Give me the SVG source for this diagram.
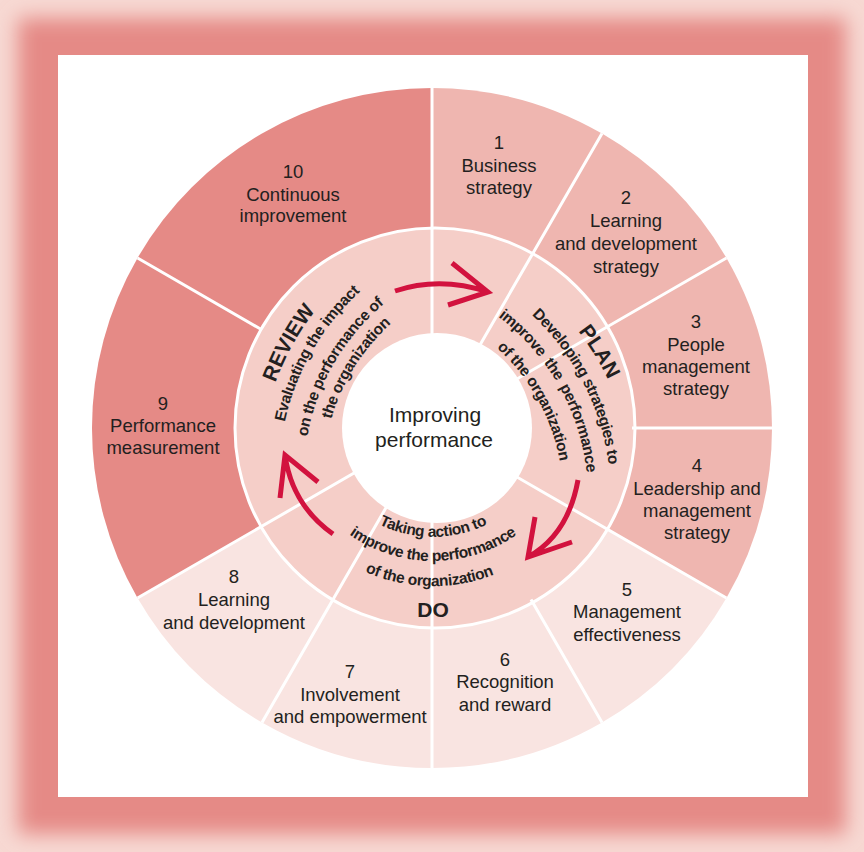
<svg xmlns="http://www.w3.org/2000/svg" width="864" height="852" viewBox="0 0 864 852">
<defs>
<filter id="blur" x="-10%" y="-10%" width="120%" height="120%"><feGaussianBlur stdDeviation="10"/></filter>
<style>
.seg{font-family:"Liberation Sans",Arial,sans-serif;font-size:18.5px;fill:#231f20;text-anchor:middle}
.ctr{font-family:"Liberation Sans",Arial,sans-serif;font-size:21px;fill:#231f20;text-anchor:middle}
.arc{font-family:"Liberation Sans",Arial,sans-serif;font-size:15.5px;font-weight:bold;fill:#231f20;letter-spacing:-0.35px}
.ttl{font-family:"Liberation Sans",Arial,sans-serif;font-size:21px;font-weight:bold;fill:#231f20}
.dk{fill:#e58a86}.md{fill:#efb6b0}.lt{fill:#f9e4e1}
.div{stroke:#fff;stroke-width:3;fill:none}
.arr{stroke:#d2123e;stroke-width:5;fill:none;stroke-linecap:butt;stroke-linejoin:miter}
</style>
<path id="pR0" d="M324.7,650.8 A268,268 0 0 1 568.9,210.3"/>
<path id="pR1" d="M337.0,634.4 A248,248 0 0 1 570.1,230.8"/>
<path id="pR2" d="M356.2,618.3 A223,223 0 0 1 565.7,255.4"/>
<path id="pR3" d="M366.6,600.3 A203.5,203.5 0 0 1 569.3,276.0"/>
<path id="pP0" d="M307.7,230.0 A272.5,272.5 0 0 1 575.3,666.6"/>
<path id="pP1" d="M330.6,250.0 A249,249 0 0 1 544.8,666.0"/>
<path id="pP2" d="M324.3,274.2 A226,226 0 0 1 534.1,643.5"/>
<path id="pP3" d="M330.2,298.5 A201,201 0 0 1 513.9,628.6"/>
<path id="pD1" d="M318.4,456.7 A122,122 0 0 0 547.6,456.7"/>
<path id="pD2" d="M295.8,464.9 A146,146 0 0 0 570.2,464.9"/>
<path id="pD3" d="M272.9,469.2 A168,168 0 0 0 590.5,476.4"/>
</defs>
<g id="frame">
<rect x="0" y="0" width="864" height="852" fill="#f7d9d3"/>
<rect x="18" y="18" width="828" height="816" fill="#e58a86" filter="url(#blur)"/>
<rect x="58" y="55" width="750" height="742" fill="#fff"/>
</g>
<g id="seg1"><path class="md" d="M432,428 L432,88 A340,340 0 0 1 602,133.55 Z"/>
<text class="seg" x="499" y="149">1</text><text class="seg" x="499" y="172">Business</text><text class="seg" x="499" y="194">strategy</text></g>
<g id="seg2"><path class="md" d="M432,428 L602,133.55 A340,340 0 0 1 726.45,258 Z"/>
<text class="seg" x="626" y="204">2</text><text class="seg" x="626" y="227">Learning</text><text class="seg" x="626" y="250">and development</text><text class="seg" x="626" y="273">strategy</text></g>
<g id="seg3"><path class="md" d="M432,428 L726.45,258 A340,340 0 0 1 772,428 Z"/>
<text class="seg" x="696" y="328">3</text><text class="seg" x="696" y="351">People</text><text class="seg" x="696" y="373">management</text><text class="seg" x="696" y="395">strategy</text></g>
<g id="seg4"><path class="md" d="M432,428 L772,428 A340,340 0 0 1 726.45,598 Z"/>
<text class="seg" x="697" y="472">4</text><text class="seg" x="697" y="495">Leadership and</text><text class="seg" x="697" y="517">management</text><text class="seg" x="697" y="539">strategy</text></g>
<g id="seg5"><path class="lt" d="M432,428 L726.45,598 A340,340 0 0 1 602,722.45 Z"/>
<text class="seg" x="627" y="596">5</text><text class="seg" x="627" y="618">Management</text><text class="seg" x="627" y="641">effectiveness</text></g>
<g id="seg6"><path class="lt" d="M432,428 L602,722.45 A340,340 0 0 1 432,768 Z"/>
<text class="seg" x="505" y="666">6</text><text class="seg" x="505" y="688">Recognition</text><text class="seg" x="505" y="711">and reward</text></g>
<g id="seg7"><path class="lt" d="M432,428 L432,768 A340,340 0 0 1 262,722.45 Z"/>
<text class="seg" x="350" y="678">7</text><text class="seg" x="350" y="701">Involvement</text><text class="seg" x="350" y="723">and empowerment</text></g>
<g id="seg8"><path class="lt" d="M432,428 L262,722.45 A340,340 0 0 1 137.55,598 Z"/>
<text class="seg" x="234" y="583">8</text><text class="seg" x="234" y="606">Learning</text><text class="seg" x="234" y="629">and development</text></g>
<g id="seg9"><path class="dk" d="M432,428 L137.55,598 A340,340 0 0 1 137.55,258 Z"/>
<text class="seg" x="163" y="410">9</text><text class="seg" x="163" y="432">Performance</text><text class="seg" x="163" y="454">measurement</text></g>
<g id="seg10"><path class="dk" d="M432,428 L137.55,258 A340,340 0 0 1 432,88 Z"/>
<text class="seg" x="293" y="178">10</text><text class="seg" x="293" y="201">Continuous</text><text class="seg" x="293" y="222">improvement</text></g>
<g id="ring"><circle cx="435" cy="428" r="200" fill="#f5cec8" stroke="#fff" stroke-width="3"/></g>
<g id="dividers">
<path class="div" d="M432,428 L432,88 M432,428 L602,133.55 M432,428 L726.45,258 M432,428 L726.45,598 M432,428 L432,768 M432,428 L262,722.45 M432,428 L137.55,598"/>
<path class="div" d="M632,428 L772,428 M531,599.5 L602,722.45 M260.5,329 L137.55,258"/>
</g>
<g id="hub"><circle cx="437" cy="428" r="95" fill="#fff"/>
<text class="ctr" x="435" y="422">Improving</text><text class="ctr" x="434" y="447">performance</text></g>
<g id="review">
<text class="ttl"><textPath href="#pR0" startOffset="50%" text-anchor="middle">REVIEW</textPath></text>
<text class="arc"><textPath href="#pR1" startOffset="50%" text-anchor="middle">Evaluating the impact</textPath></text>
<text class="arc"><textPath href="#pR2" startOffset="50%" text-anchor="middle">on the performance of</textPath></text>
<text class="arc"><textPath href="#pR3" startOffset="50%" text-anchor="middle">the organization</textPath></text>
</g>
<g id="plan">
<text class="ttl"><textPath href="#pP0" startOffset="50%" text-anchor="middle">PLAN</textPath></text>
<text class="arc"><textPath href="#pP1" startOffset="50%" text-anchor="middle">Developing strategies to</textPath></text>
<text class="arc" word-spacing="3"><textPath href="#pP2" startOffset="50%" text-anchor="middle">improve the performance</textPath></text>
<text class="arc"><textPath href="#pP3" startOffset="50%" text-anchor="middle">of the organization</textPath></text>
</g>
<g id="do">
<text class="arc"><textPath href="#pD1" startOffset="50%" text-anchor="middle">Taking action to</textPath></text>
<text class="arc"><textPath href="#pD2" startOffset="50%" text-anchor="middle">improve the performance</textPath></text>
<text class="arc"><textPath href="#pD3" startOffset="50%" text-anchor="middle">of the organization</textPath></text>
<text class="ttl" x="433" y="617" text-anchor="middle">DO</text>
</g>
<g id="connectors">
<path class="arr" d="M395,291 Q440,276 488,292 M452,263 L488,292 L448,305"/>
<path class="arr" d="M578,480 Q568,535 528,557 M535,517 L528,557 L572,542"/>
<path class="arr" d="M333,534 Q292,505 285,455 M280,498 L285,455 L318,482"/>
</g>
</svg>
